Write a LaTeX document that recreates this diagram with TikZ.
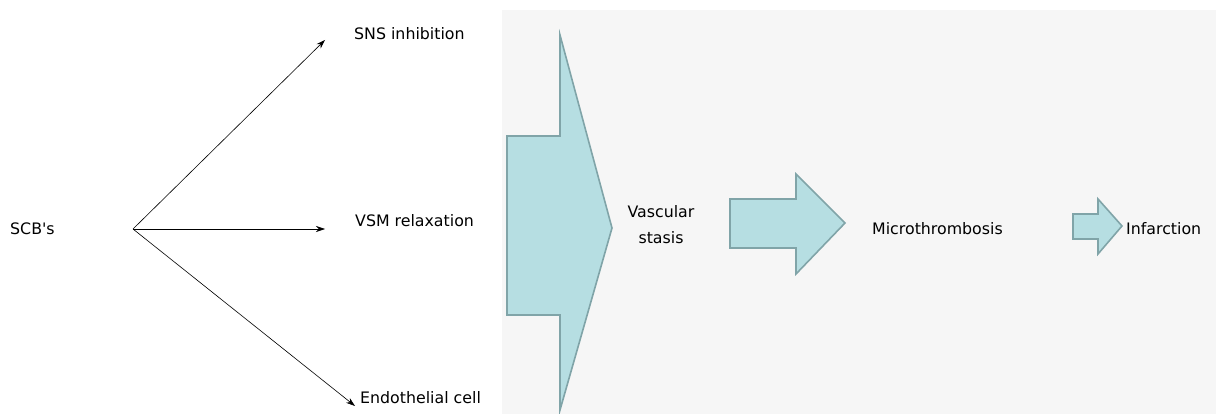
\documentclass[tikz,border=0pt]{standalone}
\usepackage{fontspec}
\setmainfont{DejaVu Sans}
\usepackage{tikz}
\usetikzlibrary{arrows.meta, positioning}
\definecolor{panelgray}{RGB}{246, 246, 246}
\definecolor{arrowfill}{RGB}{182, 222, 226}
\definecolor{arrowedge}{RGB}{128, 164, 168}

\begin{document}
\begin{tikzpicture}[
  x=1pt, y=-1pt,
  txt/.style={inner sep=0pt, anchor=west, font=\fontsize{15.8}{19}\selectfont},
  thinarrow/.style={-{Stealth[length=9pt, width=6pt]}, line width=0.6pt},
  blockarrow/.style={fill=arrowfill, draw=arrowedge, line width=1.6pt, line join=miter}
]
\useasboundingbox (0,0) rectangle (1216,414);
\fill[panelgray] (502,10) rectangle (1216,414);

% block arrows
\draw[blockarrow] (507,136) -- (560,136) -- (560,35) -- (612,228) -- (560,410) -- (560,315) -- (507,315) -- cycle;
\draw[blockarrow] (730,199) -- (796,199) -- (796,174) -- (845,223) -- (796,274) -- (796,248) -- (730,248) -- cycle;
\draw[blockarrow] (1073,214) -- (1098,214) -- (1098,199) -- (1122,226) -- (1098,254) -- (1098,239) -- (1073,239) -- cycle;

% labels
\node[txt] (scb)    at (10,229)   {SCB\textquotesingle s};
\node[txt] (sns)    at (354,34)   {SNS inhibition};
\node[txt] (vsm)    at (355,221)  {VSM relaxation};
\node[txt] (endo)   at (360,398)  {Endothelial cell};
\node[txt, anchor=center, align=center, font=\fontsize{15.8}{26}\selectfont] (stasis) at (661,225) {Vascular\\stasis};
\node[txt] (micro)  at (872,229)  {Microthrombosis};
\node[txt] (infarc) at (1126,229) {Infarction};

\coordinate (hub)    at (133,229);
\coordinate (snsend) at (325,40);
\coordinate (vsmend) at (325,229);
\coordinate (endend) at (355,406);

\draw[thinarrow] (hub) -- (snsend);
\draw[thinarrow] (hub) -- (vsmend);
\draw[thinarrow] (hub) -- (endend);
\end{tikzpicture}
\end{document}
